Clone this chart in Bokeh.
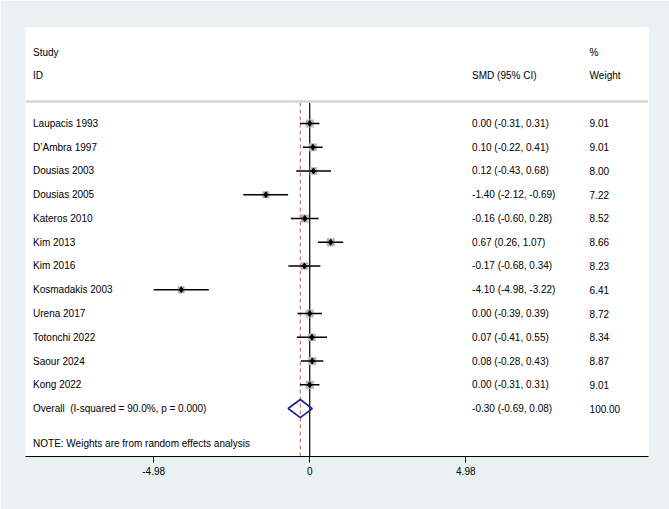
from bokeh.plotting import figure
from bokeh.models import Range1d, FixedTicker, Span, ColumnDataSource
from bokeh.core.properties import value
from bokeh.embed import file_html
from bokeh.resources import INLINE
import numpy as np

# Study-level estimates (standardised mean difference, 95% CI, % weight)
studies = ["Laupacis 1993", "D\u2019Ambra 1997", "Dousias 2003", "Dousias 2005",
           "Kateros 2010", "Kim 2013", "Kim 2016", "Kosmadakis 2003",
           "Urena 2017", "Totonchi 2022", "Saour 2024", "Kong 2022"]
smd = [0.00, 0.10, 0.12, -1.40, -0.16, 0.67, -0.17, -4.10, 0.00, 0.07, 0.08, 0.00]
lo = [-0.31, -0.22, -0.43, -2.12, -0.60, 0.26, -0.68, -4.98, -0.39, -0.41, -0.28, -0.31]
hi = [0.31, 0.41, 0.68, -0.69, 0.28, 1.07, 0.34, -3.22, 0.39, 0.55, 0.43, 0.31]
weight = [9.01, 9.01, 8.00, 7.22, 8.52, 8.66, 8.23, 6.41, 8.72, 8.34, 8.87, 9.01]

# Pooled random-effects estimate (non-breaking space keeps the double gap in SVG)
overall_label = "Overall \u00a0(I-squared = 90.0%, p = 0.000)"
overall_smd, overall_lo, overall_hi, overall_w = -0.30, -0.69, 0.08, 100.00

tick_values = [-4.98, 0, 4.98]
tick_labels = ["-4.98", "0", "4.98"]

FONT = value("Liberation Sans")
FS = "10px"
BG = "#e9f1f3"

# plotting ranges (x in SMD units, y in row units, rows counted downward)
x_lo, x_hi = -9.07, 10.81
y_top, y_bot = -4.04, 14.02
sep_y = -0.93
col_study, col_ci, col_w = -8.83, 5.18, 8.93

p = figure(width=669, height=509, output_backend="svg", toolbar_location=None,
           x_range=Range1d(x_lo, x_hi), y_range=Range1d(y_bot, y_top),
           min_border_left=25, min_border_right=21, min_border_top=27,
           min_border_bottom=53)
p.background_fill_color = "white"
p.border_fill_color = BG
p.outline_line_color = None
p.grid.visible = False
p.yaxis.visible = False

ax = p.xaxis[0]
ax.ticker = FixedTicker(ticks=tick_values)
ax.major_label_overrides = {v: l for v, l in zip(tick_values, tick_labels)}
ax.major_label_text_font = "Liberation Sans"
ax.major_label_text_font_size = FS
ax.major_label_text_color = "black"
ax.major_tick_in = 0
ax.major_tick_out = 6
ax.minor_tick_line_color = None
ax.axis_line_color = "black"
ax.major_tick_line_color = "black"
ax.major_label_standoff = 4

n = len(studies)
rows = np.arange(n)

# header separator
p.add_layout(Span(location=sep_y, dimension="width", line_color="#d4d4d4", line_width=2.5))

# null line and pooled-effect line
p.segment(x0=[0], y0=[sep_y + 0.05], x1=[0], y1=[y_bot], line_color="black", line_width=1.2)
p.segment(x0=[overall_smd], y0=[sep_y + 0.05], x1=[overall_smd], y1=[y_bot],
          line_color="#c8797c", line_width=1.2, line_dash="4 3")

src = ColumnDataSource(dict(
    y=rows, smd=smd, lo=lo, hi=hi, w=weight,
    box=[2.67 * np.sqrt(w) for w in weight],
    study=studies,
    ci=[f"{m:.2f} ({a:.2f}, {b:.2f})" for m, a, b in zip(smd, lo, hi)],
    wt=[f"{w:.2f}" for w in weight],
))

# weight boxes, confidence intervals and point estimates
p.scatter(x="smd", y="y", size="box", marker="square", source=src,
          fill_color="#b4b4b4", line_color=None)
p.segment(x0="lo", y0="y", x1="hi", y1="y", source=src, line_color="black", line_width=1.6)
p.scatter(x="smd", y="y", size=6, marker="diamond", source=src,
          fill_color="black", line_color="black")

# pooled diamond
oy = n
p.patch(x=[overall_lo, overall_smd, overall_hi, overall_smd],
        y=[oy, oy - 0.38, oy, oy + 0.38],
        fill_color=None, line_color="#1f1f8a", line_width=1.6)

# text columns
p.text(x=col_study, y="y", text="study", source=src, text_font=FONT,
       text_font_size=FS, text_baseline="middle", text_align="left", text_color="black")
p.text(x=col_ci, y="y", text="ci", source=src, text_font=FONT,
       text_font_size=FS, text_baseline="middle", text_align="left", text_color="black")
p.text(x=col_w, y="y", text="wt", source=src, text_font=FONT,
       text_font_size=FS, text_baseline="middle", text_align="left", text_color="black")

hdr = dict(text_font=FONT, text_font_size=FS, text_baseline="middle",
           text_align="left", text_color="black")
p.text(x=[col_study, col_study], y=[-3, -2], text=["Study", "ID"], **hdr)
p.text(x=[col_ci], y=[-2], text=["SMD (95% CI)"], **hdr)
p.text(x=[col_w, col_w], y=[-3, -2], text=["%", "Weight"], **hdr)
p.text(x=[col_study, col_ci, col_w], y=[oy, oy, oy],
       text=[overall_label,
             f"{overall_smd:.2f} ({overall_lo:.2f}, {overall_hi:.2f})",
             f"{overall_w:.2f}"], **hdr)
p.text(x=[col_study], y=[oy + 1.47],
       text=["NOTE: Weights are from random effects analysis"], **hdr)

open("out.html", "w").write(file_html(p, INLINE))
